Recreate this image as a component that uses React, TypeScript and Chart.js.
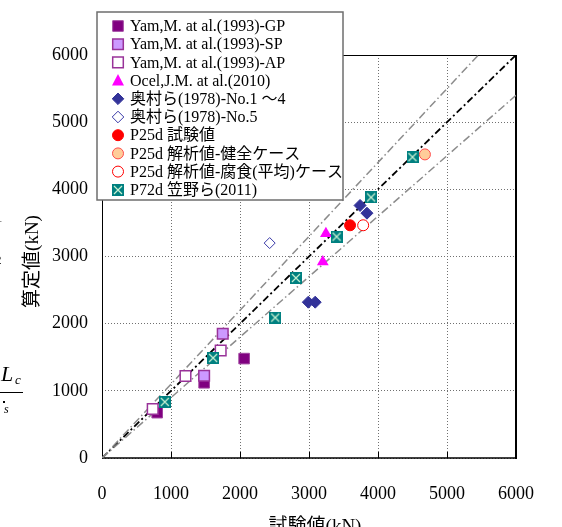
import React, { useEffect, useRef } from 'react';
import { Chart, registerables } from 'chart.js';

Chart.register(...registerables);

// ---- data (kN) ----
const axisTicks = [0, 1000, 2000, 3000, 4000, 5000, 6000];
const seriesLabels = [
  'Yam,M. at al.(1993)-GP',
  'Yam,M. at al.(1993)-SP',
  'Yam,M. at al.(1993)-AP',
  'Ocel,J.M. at al.(2010)',
  '奥村ら(1978)-No.1 ～4',
  '奥村ら(1978)-No.5',
  'P25d 試験値',
  'P25d 解析値-健全ケース',
  'P25d 解析値-腐食(平均)ケース',
  'P72d 笠野ら(2011)',
];
const yamGP = [{ x: 800, y: 675 }, { x: 1480, y: 1120 }, { x: 2060, y: 1480 }];
const yamSP = [{ x: 1480, y: 1225 }, { x: 1750, y: 1850 }];
const yamAP = [{ x: 735, y: 730 }, { x: 1210, y: 1220 }, { x: 1720, y: 1600 }];
const ocel = [{ x: 3200, y: 2920 }, { x: 3245, y: 3340 }];
const okumura1to4 = [{ x: 2990, y: 2320 }, { x: 3090, y: 2320 }, { x: 3740, y: 3760 }, { x: 3840, y: 3645 }];
const okumura5 = [{ x: 2430, y: 3200 }];
const p25Test = [{ x: 3595, y: 3465 }];
const p25Sound = [{ x: 4680, y: 4520 }];
const p25Corroded = [{ x: 3785, y: 3465 }];
const p72 = [
  { x: 910, y: 835 }, { x: 1610, y: 1490 }, { x: 2510, y: 2090 }, { x: 2810, y: 2680 },
  { x: 3400, y: 3295 }, { x: 3900, y: 3880 }, { x: 4500, y: 4480 },
];
const equalLine = [{ x: 0, y: 0 }, { x: 6000, y: 6000 }];
const upperLine = [{ x: 0, y: 0 }, { x: 5455, y: 6000 }];
const lowerLine = [{ x: 0, y: 0 }, { x: 6000, y: 5400 }];
const seriesData = [yamGP, yamSP, yamAP, ocel, okumura1to4, okumura5, p25Test, p25Sound, p25Corroded, p72];

const FONT = '"Liberation Serif", "Noto Sans CJK JP", serif';

type MStyle = { shape: string; r: number; fill: string; stroke: string; lw: number };
const markerStyles: MStyle[] = [
  { shape: 'rect', r: 7.5, fill: '#800080', stroke: '#a044a0', lw: 1 },
  { shape: 'rect', r: 7.5, fill: '#cc99ff', stroke: '#993399', lw: 1.5 },
  { shape: 'rect', r: 7.5, fill: '#ffffff', stroke: '#993399', lw: 1.5 },
  { shape: 'triangle', r: 6.8, fill: '#ff00ff', stroke: '#ff00ff', lw: 0 },
  { shape: 'rectRot', r: 6, fill: '#333399', stroke: '#333399', lw: 1 },
  { shape: 'rectRot', r: 5.5, fill: '#ffffff', stroke: '#3a3aa8', lw: 1 },
  { shape: 'circle', r: 5.5, fill: '#ff0000', stroke: '#ff0000', lw: 1 },
  { shape: 'circle', r: 5.5, fill: '#ffcc99', stroke: '#ff4a4a', lw: 1 },
  { shape: 'circle', r: 5.5, fill: '#ffffff', stroke: '#ff0000', lw: 1 },
  { shape: 'boxX', r: 6, fill: '#008080', stroke: '#c8f0d2', lw: 1.2 },
];

function makeBoxX(size: number): HTMLCanvasElement {
  const c = document.createElement('canvas');
  c.width = size;
  c.height = size;
  const g = c.getContext('2d')!;
  g.fillStyle = '#008080';
  g.fillRect(0, 0, size, size);
  g.strokeStyle = '#c8f0d2';
  g.lineWidth = 1.2;
  g.beginPath();
  g.moveTo(2, 2);
  g.lineTo(size - 2, size - 2);
  g.moveTo(size - 2, 2);
  g.lineTo(2, size - 2);
  g.stroke();
  return c;
}

function drawMarker(ctx: CanvasRenderingContext2D, s: MStyle, x: number, y: number, img: HTMLCanvasElement) {
  ctx.save();
  ctx.fillStyle = s.fill;
  ctx.strokeStyle = s.stroke;
  ctx.lineWidth = s.lw;
  ctx.beginPath();
  if (s.shape === 'rect') {
    const h = 5.3;
    ctx.rect(x - h, y - h, 2 * h, 2 * h);
  } else if (s.shape === 'triangle') {
    ctx.moveTo(x, y - 6.5);
    ctx.lineTo(x + 6, y + 5);
    ctx.lineTo(x - 6, y + 5);
    ctx.closePath();
  } else if (s.shape === 'rectRot') {
    const r = 5.8;
    ctx.moveTo(x, y - r);
    ctx.lineTo(x + r, y);
    ctx.lineTo(x, y + r);
    ctx.lineTo(x - r, y);
    ctx.closePath();
  } else if (s.shape === 'circle') {
    ctx.arc(x, y, 5.5, 0, Math.PI * 2);
  }
  if (s.shape === 'boxX') {
    ctx.drawImage(img, Math.round(x - img.width / 2), Math.round(y - img.height / 2));
  } else {
    ctx.fill();
    if (s.lw > 0) ctx.stroke();
  }
  ctx.restore();
}

export default function App() {
  const ref = useRef<HTMLCanvasElement | null>(null);

  useEffect(() => {
    if (!ref.current) return;
    const boxX = makeBoxX(12);

    const plugin = {
      id: 'custom',
      beforeDatasetsDraw(chart: any) {
        const { ctx, chartArea } = chart;
        const { left, right, top, bottom } = chartArea;
        ctx.save();
        ctx.strokeStyle = '#000';
        ctx.lineWidth = 1;
        const xs = chart.scales.x;
        ctx.beginPath();
        for (const t of axisTicks) {
          const px = Math.round(xs.getPixelForValue(t)) + 0.5;
          ctx.moveTo(px, bottom);
          ctx.lineTo(px, bottom - 6);
        }
        ctx.stroke();
        ctx.beginPath();
        ctx.moveTo(left + 0.5, top + 0.5);
        ctx.lineTo(right, top + 0.5);
        ctx.moveTo(left + 0.5, top);
        ctx.lineTo(left + 0.5, bottom);
        ctx.stroke();
        ctx.lineWidth = 1.5;
        ctx.beginPath();
        ctx.moveTo(left, bottom);
        ctx.lineTo(right, bottom);
        ctx.stroke();
        ctx.lineWidth = 2;
        ctx.beginPath();
        ctx.moveTo(right, top);
        ctx.lineTo(right, bottom + 1);
        ctx.stroke();
        ctx.restore();
      },
      afterDraw(chart: any) {
        const { ctx } = chart;
        ctx.save();
        ctx.fillStyle = '#000';
        ctx.font = `19px ${FONT}`;
        ctx.textAlign = 'center';
        ctx.textBaseline = 'middle';
        ctx.fillText('試験値(kN)', 315, 527);
        ctx.save();
        ctx.translate(33, 261.5);
        ctx.rotate(-Math.PI / 2);
        ctx.fillText('算定値(kN)', 0, 0);
        ctx.restore();
        ctx.fillStyle = '#ffffff';
        ctx.fillRect(97, 12, 246, 188);
        ctx.strokeStyle = '#6e6e6e';
        ctx.lineWidth = 1.5;
        ctx.strokeRect(97, 12, 246, 188);
        ctx.font = `16px ${FONT}`;
        ctx.textAlign = 'left';
        ctx.textBaseline = 'middle';
        seriesLabels.forEach((label, i) => {
          const y = 26 + i * 18.2;
          drawMarker(ctx, markerStyles[i], 118, y, boxX);
          ctx.fillStyle = '#000';
          ctx.fillText(label, 130, y + 1);
        });
        ctx.restore();
      },
    };

    const pointDatasets = seriesData.map((d, i) => {
      const s = markerStyles[i];
      return {
        type: 'scatter' as const,
        label: seriesLabels[i],
        data: d,
        pointStyle: s.shape === 'boxX' ? boxX : s.shape,
        pointRadius: s.r,
        pointBackgroundColor: s.fill,
        pointBorderColor: s.stroke,
        pointBorderWidth: s.lw,
        showLine: false,
        order: 100 - i,
      };
    });
    const lineDs = (data: any, color: string, width: number, dash: number[]) => ({
      type: 'line' as const,
      data,
      borderColor: color,
      borderWidth: width,
      borderDash: dash,
      pointRadius: 0,
      fill: false,
      tension: 0,
      order: 200,
    });

    const tickFmt = (v: any) => String(v);

    const chart = new Chart(ref.current, {
      type: 'scatter',
      data: {
        datasets: [
          ...pointDatasets,
          lineDs(upperLine, '#8c8c8c', 1.5, [8, 3, 1.5, 3]),
          lineDs(lowerLine, '#8c8c8c', 1.5, [8, 3, 1.5, 3]),
          lineDs(equalLine, '#000000', 1.8, [7, 3, 2, 3]),
        ] as any,
      },
      options: {
        responsive: false,
        animation: false,
        devicePixelRatio: 1,
        layout: { padding: { top: 55, right: 46, left: 0, bottom: 0 } },
        plugins: { legend: { display: false }, tooltip: { enabled: false } },
        scales: {
          x: {
            type: 'linear',
            min: 0,
            max: 6000,
            afterFit: (s: any) => { s.height = 69; },
            ticks: { stepSize: 1000, color: '#000', padding: 25, maxRotation: 0, callback: tickFmt, font: { family: FONT, size: 18 } },
            grid: { color: '#707070', lineWidth: 1, drawTicks: false },
            border: { display: false, dash: [1, 2] },
          },
          y: {
            type: 'linear',
            min: 0,
            max: 6000,
            afterFit: (s: any) => { s.width = 102; },
            ticks: { stepSize: 1000, color: '#000', padding: 14, callback: tickFmt, font: { family: FONT, size: 18 } },
            grid: { color: '#707070', lineWidth: 1, drawTicks: false },
            border: { display: false, dash: [1, 2] },
          },
        },
      } as any,
      plugins: [plugin],
    });
    return () => chart.destroy();
  }, []);

  const frag: React.CSSProperties = { position: 'absolute', fontFamily: FONT, lineHeight: 1, color: '#000', whiteSpace: 'nowrap' };

  return (
    <div style={{ position: 'fixed', left: 0, top: 0, width: 562, height: 527, background: '#fff', overflow: 'hidden' }}>
      <canvas ref={ref} width={562} height={527} style={{ position: 'absolute', left: 0, top: 0, width: 562, height: 527 }} />
      <span style={{ ...frag, left: -4, top: 211, fontSize: 13 }}>1</span>
      <span style={{ ...frag, left: -5, top: 253, fontSize: 13 }}>2</span>
      <span style={{ ...frag, left: 1, top: 363, fontSize: 22, fontStyle: 'italic' }}>L</span>
      <span style={{ ...frag, left: 15, top: 373, fontSize: 13, fontStyle: 'italic' }}>c</span>
      <div style={{ position: 'absolute', left: 0, top: 392, width: 23, height: 1, background: '#000' }} />
      <div style={{ position: 'absolute', left: 3, top: 401, width: 2, height: 2, background: '#000' }} />
      <span style={{ ...frag, left: 4, top: 403, fontSize: 12, fontStyle: 'italic' }}>s</span>
    </div>
  );
}
